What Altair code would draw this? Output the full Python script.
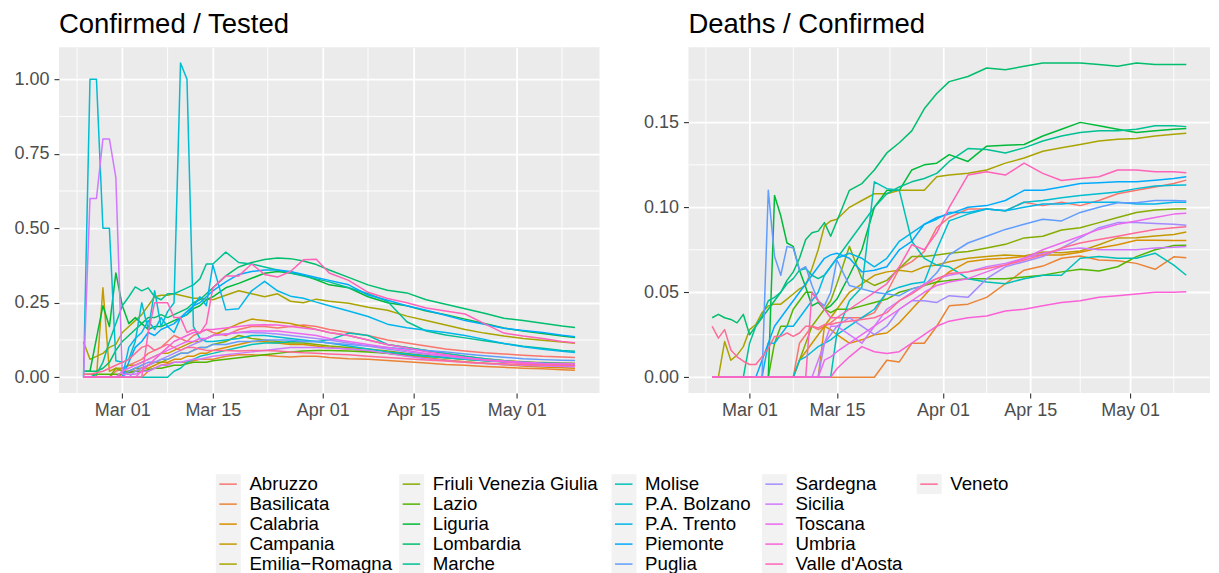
import math
import altair as alt
import pandas as pd

# ---------------- data ----------------
DATES = [
    "2020-02-24", "2020-02-25", "2020-02-26", "2020-02-27", "2020-02-28", "2020-02-29",
    "2020-03-01", "2020-03-02", "2020-03-03", "2020-03-04", "2020-03-05", "2020-03-06",
    "2020-03-07", "2020-03-08", "2020-03-09", "2020-03-10", "2020-03-11", "2020-03-12",
    "2020-03-13", "2020-03-14", "2020-03-15",
    "2020-03-17", "2020-03-19", "2020-03-21", "2020-03-23", "2020-03-25", "2020-03-27",
    "2020-03-29", "2020-03-31", "2020-04-02",
    "2020-04-05", "2020-04-08", "2020-04-11", "2020-04-14", "2020-04-17", "2020-04-20",
    "2020-04-23", "2020-04-26", "2020-04-29", "2020-05-02", "2020-05-05", "2020-05-08",
    "2020-05-10",
]

REGIONS = [
    "Abruzzo", "Basilicata", "Calabria", "Campania", "Emilia\u2212Romagna",
    "Friuli Venezia Giulia", "Lazio", "Liguria", "Lombardia", "Marche",
    "Molise", "P.A. Bolzano", "P.A. Trento", "Piemonte", "Puglia",
    "Sardegna", "Sicilia", "Toscana", "Umbria", "Valle d'Aosta", "Veneto",
]

# Confirmed / Tested
ct_abruzzo = [0, 0, 0, 0, 0, 0.02, 0.03, 0.04, 0.05, 0.06, 0.08, 0.09, 0.10, 0.12, 0.14, 0.13, 0.12, 0.14, 0.15, 0.16, 0.15,
              0.14, 0.16, 0.17, 0.17, 0.165, 0.17, 0.175, 0.17, 0.16,
              0.15, 0.14, 0.125, 0.115, 0.105, 0.095, 0.088, 0.082, 0.078, 0.074, 0.07, 0.068, 0.066]
ct_basilicata = [0, 0, 0, 0, 0, 0, 0, 0, 0, 0, 0.02, 0.03, 0.04, 0.045, 0.05, 0.05, 0.05, 0.055, 0.06, 0.06, 0.06,
                 0.07, 0.075, 0.075, 0.074, 0.07, 0.068, 0.07, 0.07, 0.066,
                 0.062, 0.06, 0.056, 0.052, 0.048, 0.043, 0.04, 0.036, 0.033, 0.03, 0.028, 0.025, 0.023]
ct_calabria = [0, 0, 0, 0, 0, 0, 0.01, 0.02, 0.02, 0.03, 0.03, 0.04, 0.05, 0.05, 0.06, 0.06, 0.07, 0.07, 0.08, 0.08, 0.09,
               0.10, 0.11, 0.12, 0.12, 0.115, 0.11, 0.11, 0.105, 0.10,
               0.095, 0.088, 0.08, 0.072, 0.065, 0.058, 0.052, 0.047, 0.042, 0.038, 0.034, 0.032, 0.03]
ct_campania = [0, 0, 0, 0.30, 0.02, 0.03, 0.03, 0.04, 0.04, 0.05, 0.06, 0.07, 0.08, 0.08, 0.09, 0.10, 0.11, 0.12, 0.12, 0.13, 0.14,
               0.16, 0.18, 0.195, 0.19, 0.185, 0.18, 0.17, 0.16, 0.15,
               0.14, 0.125, 0.11, 0.10, 0.09, 0.08, 0.07, 0.062, 0.056, 0.052, 0.048, 0.045, 0.043]
ct_emilia = [0.118, 0.06, 0.07, 0.08, 0.10, 0.11, 0.15, 0.17, 0.19, 0.21, 0.24, 0.27, 0.275, 0.275, 0.28, 0.275, 0.27, 0.265, 0.265, 0.262, 0.26,
             0.275, 0.29, 0.28, 0.27, 0.28, 0.255, 0.25, 0.262, 0.255,
             0.248, 0.235, 0.225, 0.205, 0.19, 0.175, 0.16, 0.148, 0.138, 0.13, 0.124, 0.118, 0.114]
ct_friuli = [0, 0, 0, 0, 0, 0.03, 0.02, 0.02, 0.03, 0.03, 0.04, 0.05, 0.05, 0.06, 0.07, 0.08, 0.08, 0.09, 0.10, 0.10, 0.11,
             0.12, 0.14, 0.13, 0.125, 0.12, 0.115, 0.115, 0.11, 0.105,
             0.10, 0.095, 0.088, 0.08, 0.073, 0.066, 0.06, 0.056, 0.053, 0.05, 0.049, 0.048, 0.047]
ct_lazio = [0.01, 0.01, 0.01, 0.01, 0.01, 0.01, 0.01, 0.015, 0.02, 0.02, 0.025, 0.03, 0.03, 0.035, 0.04, 0.04, 0.045, 0.05, 0.05, 0.05, 0.055,
            0.06, 0.065, 0.07, 0.075, 0.08, 0.085, 0.088, 0.09, 0.09,
            0.088, 0.085, 0.08, 0.075, 0.07, 0.065, 0.06, 0.056, 0.052, 0.049, 0.046, 0.045, 0.044]
ct_liguria = [0.02, 0.02, 0.13, 0.24, 0.17, 0.35, 0.24, 0.18, 0.20, 0.18, 0.16, 0.17, 0.17, 0.18, 0.19, 0.20, 0.21, 0.23, 0.24, 0.26, 0.27,
              0.30, 0.315, 0.332, 0.349, 0.355, 0.35, 0.343, 0.327, 0.31,
              0.30, 0.27, 0.25, 0.24, 0.222, 0.21, 0.195, 0.18, 0.165, 0.155, 0.147, 0.138, 0.133]
ct_lombardia = [0.02, 0.02, 0.02, 0.03, 0.05, 0.09, 0.12, 0.14, 0.16, 0.18, 0.20, 0.20, 0.21, 0.20, 0.21, 0.22, 0.23, 0.25, 0.26, 0.28, 0.30,
                0.34, 0.37, 0.385, 0.395, 0.40, 0.398, 0.39, 0.378, 0.36,
                0.335, 0.31, 0.292, 0.283, 0.26, 0.245, 0.23, 0.215, 0.198, 0.19, 0.181, 0.172, 0.167]
ct_marche = [0, 0, 0.01, 0.05, 0.12, 0.18, 0.24, 0.27, 0.303, 0.29, 0.30, 0.27, 0.26, 0.28, 0.28, 0.29, 0.30, 0.31, 0.33, 0.38, 0.38,
             0.42, 0.385, 0.38, 0.37, 0.36, 0.35, 0.34, 0.33, 0.32,
             0.30, 0.28, 0.255, 0.186, 0.155, 0.142, 0.132, 0.122, 0.113, 0.104, 0.097, 0.09, 0.087]
ct_molise = [0, 0, 0, 0, 0, 0, 0, 0, 0, 0, 0, 0, 0, 0, 0.02, 0.03, 0.05, 0.06, 0.07, 0.075, 0.08,
             0.09, 0.10, 0.11, 0.115, 0.115, 0.12, 0.12, 0.12, 0.125,
             0.148, 0.14, 0.11, 0.10, 0.09, 0.08, 0.07, 0.062, 0.055, 0.05, 0.046, 0.043, 0.042]
ct_bolzano = [0, 1.0, 1.0, 0.5, 0.5, 0.055, 0.05, 0.06, 0.12, 0.25, 0.16, 0.29, 0.17, 0.22, 0.25, 1.055, 1.0, 0.17, 0.13, 0.12, 0.12,
              0.125, 0.13, 0.14, 0.14, 0.135, 0.13, 0.125, 0.12, 0.115,
              0.105, 0.095, 0.085, 0.078, 0.07, 0.065, 0.06, 0.055, 0.052, 0.05, 0.048, 0.046, 0.045]
ct_trento = [0, 0, 0, 0, 0, 0, 0, 0.10, 0.13, 0.15, 0.19, 0.16, 0.20, 0.17, 0.15, 0.20, 0.21, 0.24, 0.27, 0.24, 0.377,
             0.226, 0.23, 0.29, 0.322, 0.29, 0.272, 0.265, 0.252, 0.24,
             0.222, 0.204, 0.178, 0.166, 0.158, 0.15, 0.14, 0.127, 0.113, 0.102, 0.094, 0.087, 0.083]
ct_piemonte = [0, 0, 0, 0, 0, 0, 0, 0.05, 0.10, 0.12, 0.15, 0.14, 0.16, 0.17, 0.18, 0.20, 0.22, 0.24, 0.25, 0.27, 0.29,
               0.32, 0.345, 0.355, 0.36, 0.36, 0.355, 0.345, 0.335, 0.325,
               0.31, 0.276, 0.258, 0.24, 0.225, 0.208, 0.19, 0.178, 0.164, 0.157, 0.15, 0.141, 0.136]
ct_puglia = [0, 0, 0, 0, 0, 0, 0, 0.02, 0.03, 0.04, 0.05, 0.05, 0.06, 0.06, 0.07, 0.08, 0.08, 0.09, 0.10, 0.10, 0.11,
             0.11, 0.12, 0.12, 0.125, 0.125, 0.125, 0.12, 0.12, 0.115,
             0.11, 0.105, 0.10, 0.095, 0.09, 0.085, 0.078, 0.072, 0.067, 0.062, 0.059, 0.057, 0.056]
ct_sardegna = [0, 0, 0, 0, 0, 0, 0, 0, 0.02, 0.03, 0.04, 0.05, 0.06, 0.07, 0.08, 0.09, 0.10, 0.11, 0.12, 0.13, 0.14,
               0.145, 0.15, 0.15, 0.148, 0.145, 0.14, 0.135, 0.13, 0.125,
               0.115, 0.105, 0.095, 0.085, 0.077, 0.07, 0.063, 0.057, 0.052, 0.048, 0.044, 0.042, 0.04]
ct_sicilia = [0, 0.6, 0.6, 0.8, 0.8, 0.67, 0.01, 0.01, 0.01, 0.02, 0.02, 0.03, 0.04, 0.04, 0.05, 0.05, 0.055, 0.06, 0.06, 0.065, 0.07,
              0.075, 0.08, 0.085, 0.09, 0.095, 0.10, 0.10, 0.10, 0.098,
              0.095, 0.09, 0.08, 0.07, 0.062, 0.056, 0.05, 0.046, 0.043, 0.04, 0.038, 0.036, 0.035]
ct_toscana = [0, 0, 0, 0, 0, 0, 0.02, 0.03, 0.04, 0.05, 0.06, 0.07, 0.08, 0.09, 0.10, 0.11, 0.12, 0.12, 0.13, 0.13, 0.14,
              0.145, 0.15, 0.155, 0.155, 0.155, 0.15, 0.145, 0.14, 0.13,
              0.12, 0.11, 0.10, 0.09, 0.08, 0.072, 0.065, 0.059, 0.054, 0.05, 0.047, 0.046, 0.045]
ct_umbria = [0, 0, 0, 0, 0, 0, 0, 0, 0, 0.02, 0.04, 0.06, 0.08, 0.10, 0.12, 0.13, 0.14, 0.15, 0.15, 0.16, 0.16,
             0.165, 0.17, 0.175, 0.176, 0.175, 0.17, 0.165, 0.16, 0.15,
             0.14, 0.125, 0.11, 0.098, 0.085, 0.075, 0.066, 0.058, 0.052, 0.046, 0.042, 0.04, 0.039]
ct_valle = [0, 0, 0, 0, 0, 0, 0, 0, 0, 0, 0.15, 0.25, 0.25, 0.25, 0.20, 0.20, 0.15, 0.16, 0.148, 0.18, 0.30,
            0.34, 0.34, 0.38, 0.345, 0.336, 0.355, 0.394, 0.396, 0.35,
            0.325, 0.285, 0.264, 0.25, 0.232, 0.222, 0.212, 0.18, 0.148, 0.138, 0.13, 0.12, 0.116]
ct_veneto = [0.01, 0.01, 0.015, 0.02, 0.03, 0.04, 0.05, 0.06, 0.08, 0.10, 0.107, 0.09, 0.10, 0.11, 0.10, 0.09, 0.10, 0.10, 0.095, 0.09, 0.09,
             0.09, 0.088, 0.09, 0.09, 0.088, 0.085, 0.082, 0.08, 0.078,
             0.075, 0.07, 0.066, 0.062, 0.058, 0.054, 0.05, 0.047, 0.045, 0.043, 0.041, 0.04, 0.04]

# Deaths / Confirmed
dc_abruzzo = [0, 0, 0, 0, 0, 0, 0, 0, 0, 0, 0, 0, 0, 0, 0.02, 0.025, 0.03, 0.028, 0.03, 0.032, 0.035,
              0.035, 0.035, 0.038, 0.05, 0.064, 0.068, 0.074, 0.088, 0.094,
              0.099, 0.099, 0.098, 0.103, 0.101, 0.103, 0.101, 0.104, 0.108, 0.11, 0.112, 0.114, 0.116]
dc_basilicata = [0, 0, 0, 0, 0, 0, 0, 0, 0, 0, 0, 0, 0, 0, 0, 0, 0, 0, 0, 0, 0,
                 0, 0, 0, 0.01, 0.009, 0.02, 0.02, 0.03, 0.042,
                 0.043, 0.047, 0.055, 0.063, 0.0654, 0.07, 0.0713, 0.069, 0.0685, 0.067, 0.0635, 0.0709, 0.0703]
dc_calabria = [0, 0, 0, 0, 0, 0, 0, 0, 0, 0, 0, 0, 0, 0, 0, 0, 0, 0, 0.03, 0.028, 0.025,
               0.02, 0.022, 0.025, 0.026, 0.032, 0.04, 0.048, 0.056, 0.062,
               0.068, 0.0694, 0.07, 0.071, 0.072, 0.072, 0.0735, 0.076, 0.078, 0.0806, 0.0806, 0.0805, 0.0805]
dc_campania = [0, 0, 0, 0, 0, 0, 0, 0, 0, 0, 0, 0, 0, 0, 0.01, 0.015, 0.02, 0.025, 0.03, 0.035, 0.04,
               0.05, 0.055, 0.06, 0.062, 0.063, 0.062, 0.065, 0.066, 0.068,
               0.07, 0.071, 0.072, 0.0713, 0.0737, 0.0733, 0.0743, 0.078, 0.082, 0.0821, 0.0831, 0.084, 0.0855]
dc_emilia = [0, 0, 0.021, 0.01, 0.013, 0.018, 0.028, 0.031, 0.038, 0.042, 0.043, 0.043, 0.046, 0.049, 0.052, 0.054, 0.064, 0.075, 0.089, 0.092, 0.093,
             0.10, 0.104, 0.108, 0.108, 0.11, 0.11, 0.11, 0.118, 0.119,
             0.12, 0.122, 0.126, 0.129, 0.133, 0.135, 0.137, 0.139, 0.14, 0.1405, 0.142, 0.143, 0.1436]
dc_friuli = [0, 0, 0, 0, 0, 0, 0, 0, 0, 0, 0, 0, 0, 0, 0.01, 0.02, 0.03, 0.035, 0.04, 0.045, 0.055,
             0.077, 0.058, 0.054, 0.057, 0.064, 0.071, 0.071, 0.072, 0.073,
             0.074, 0.076, 0.0782, 0.082, 0.083, 0.0866, 0.088, 0.091, 0.094, 0.097, 0.0984, 0.099, 0.0992]
dc_lazio = [0, 0, 0, 0, 0, 0, 0, 0, 0, 0, 0.02, 0.03, 0.03, 0.04, 0.045, 0.05, 0.05, 0.045, 0.04, 0.038, 0.04,
            0.04, 0.042, 0.044, 0.046, 0.05, 0.052, 0.054, 0.056, 0.057,
            0.058, 0.058, 0.058, 0.059, 0.06, 0.062, 0.0635, 0.0625, 0.065, 0.071, 0.075, 0.0775, 0.0776]
dc_liguria = [0, 0, 0, 0, 0, 0, 0, 0, 0, 0, 0.107, 0.095, 0.079, 0.077, 0.063, 0.053, 0.042, 0.044, 0.04, 0.042, 0.046,
              0.06, 0.075, 0.10, 0.11, 0.11, 0.122, 0.125, 0.126, 0.131,
              0.127, 0.136, 0.1365, 0.137, 0.142, 0.146, 0.15, 0.148, 0.146, 0.144, 0.145, 0.146, 0.1464]
dc_lombardia = [0.035, 0.037, 0.035, 0.034, 0.032, 0.037, 0.025, 0.03, 0.035, 0.04, 0.045, 0.05, 0.057, 0.062, 0.07, 0.081, 0.085, 0.086, 0.091, 0.083, 0.092,
                0.11, 0.114, 0.122, 0.132, 0.138, 0.145, 0.158, 0.167, 0.174,
                0.177, 0.182, 0.181, 0.183, 0.185, 0.185, 0.185, 0.184, 0.183, 0.185, 0.184, 0.184, 0.184]
dc_marche = [0, 0, 0, 0, 0, 0, 0.02, 0.03, 0.036, 0.045, 0.047, 0.05, 0.055, 0.058, 0.063, 0.064, 0.06, 0.058, 0.06, 0.065, 0.07,
             0.08, 0.09, 0.10, 0.108, 0.112, 0.115, 0.117, 0.12, 0.127,
             0.1346, 0.134, 0.132, 0.135, 0.139, 0.142, 0.144, 0.145, 0.145, 0.146, 0.148, 0.148, 0.1475]
dc_molise = [0, 0, 0, 0, 0, 0, 0, 0, 0, 0, 0, 0, 0, 0, 0, 0, 0, 0, 0, 0, 0.026,
             0.045, 0.053, 0.115, 0.111, 0.11, 0.08, 0.07, 0.066, 0.065,
             0.058, 0.056, 0.055, 0.058, 0.06, 0.06, 0.07, 0.071, 0.07, 0.07, 0.073, 0.066, 0.06]
dc_bolzano = [0, 0, 0, 0, 0, 0, 0, 0, 0, 0, 0, 0, 0, 0, 0.01, 0.012, 0.015, 0.018, 0.02, 0.022, 0.025,
              0.03, 0.035, 0.04, 0.05, 0.053, 0.055, 0.056, 0.075, 0.092,
              0.096, 0.099, 0.098, 0.103, 0.104, 0.1057, 0.107, 0.108, 0.109, 0.111, 0.1126, 0.113, 0.1132]
dc_trento = [0, 0, 0, 0, 0, 0, 0, 0, 0, 0.02, 0.02, 0.025, 0.03, 0.03, 0.035, 0.04, 0.045, 0.05, 0.06, 0.065, 0.07,
             0.073, 0.07, 0.065, 0.07, 0.08, 0.085, 0.09, 0.093, 0.097,
             0.097, 0.099, 0.098, 0.10, 0.102, 0.102, 0.103, 0.103, 0.103, 0.102, 0.102, 0.103, 0.103]
dc_piemonte = [0, 0, 0, 0, 0, 0, 0, 0, 0.01, 0.02, 0.03, 0.035, 0.04, 0.045, 0.05, 0.055, 0.06, 0.065, 0.07, 0.072, 0.073,
               0.07, 0.062, 0.063, 0.065, 0.075, 0.08, 0.09, 0.094, 0.096,
               0.10, 0.101, 0.104, 0.11, 0.11, 0.112, 0.114, 0.1145, 0.115, 0.115, 0.116, 0.117, 0.118]
dc_puglia = [0, 0, 0, 0, 0, 0, 0, 0, 0, 0.11, 0.071, 0.06, 0.077, 0.076, 0.063, 0.065, 0.054, 0.045, 0.042, 0.05, 0.069,
             0.054, 0.052, 0.05, 0.049, 0.048, 0.052, 0.054, 0.0615, 0.072,
             0.079, 0.083, 0.087, 0.09, 0.093, 0.092, 0.097, 0.10, 0.1027, 0.1027, 0.104, 0.104, 0.1037]
dc_sardegna = [0, 0, 0, 0, 0, 0, 0, 0, 0, 0, 0, 0, 0, 0, 0, 0, 0, 0, 0.02, 0.025, 0.03,
               0.035, 0.03, 0.025, 0.03, 0.04, 0.045, 0.045, 0.044, 0.048,
               0.047, 0.058, 0.065, 0.068, 0.071, 0.076, 0.082, 0.088, 0.091, 0.091, 0.0905, 0.09, 0.0894]
dc_sicilia = [0, 0, 0, 0, 0, 0, 0, 0, 0, 0, 0, 0, 0, 0, 0, 0, 0, 0.01, 0.02, 0.03, 0.03,
              0.025, 0.02, 0.03, 0.04, 0.045, 0.05, 0.055, 0.058, 0.06,
              0.062, 0.065, 0.067, 0.07, 0.073, 0.075, 0.076, 0.075, 0.075, 0.075, 0.076, 0.0765, 0.077]
dc_toscana = [0, 0, 0, 0, 0, 0, 0, 0, 0, 0, 0, 0, 0, 0, 0, 0, 0, 0, 0.01, 0.012, 0.015,
              0.02, 0.025, 0.03, 0.035, 0.04, 0.045, 0.05, 0.054, 0.056,
              0.058, 0.062, 0.066, 0.07, 0.075, 0.079, 0.083, 0.087, 0.09, 0.092, 0.094, 0.096, 0.0965]
dc_umbria = [0, 0, 0, 0, 0, 0, 0, 0, 0, 0, 0, 0, 0, 0, 0, 0, 0, 0, 0, 0, 0.005,
             0.012, 0.018, 0.015, 0.014, 0.015, 0.02, 0.025, 0.03, 0.033,
             0.035, 0.036, 0.039, 0.04, 0.042, 0.044, 0.045, 0.047, 0.048, 0.049, 0.05, 0.05, 0.0503]
dc_valle = [0, 0, 0, 0, 0, 0, 0, 0, 0, 0, 0, 0, 0, 0, 0, 0, 0.05, 0.045, 0.04, 0.035, 0.035,
            0.04, 0.045, 0.05, 0.055, 0.065, 0.078, 0.075, 0.085, 0.10,
            0.119, 0.121, 0.119, 0.126, 0.12, 0.1158, 0.117, 0.118, 0.122, 0.122, 0.121, 0.121, 0.1204]
dc_veneto = [0.03, 0.023, 0.028, 0.016, 0.012, 0.0094, 0.0075, 0.0075, 0.012, 0.017, 0.024, 0.024, 0.026, 0.024, 0.026, 0.03, 0.03, 0.029, 0.031, 0.031, 0.032,
             0.033, 0.034, 0.035, 0.038, 0.045, 0.049, 0.054, 0.058, 0.061,
             0.062, 0.064, 0.066, 0.069, 0.072, 0.076, 0.079, 0.081, 0.083, 0.085, 0.087, 0.088, 0.0886]

CT_SERIES = [ct_abruzzo, ct_basilicata, ct_calabria, ct_campania, ct_emilia, ct_friuli, ct_lazio,
             ct_liguria, ct_lombardia, ct_marche, ct_molise, ct_bolzano, ct_trento, ct_piemonte,
             ct_puglia, ct_sardegna, ct_sicilia, ct_toscana, ct_umbria, ct_valle, ct_veneto]
DC_SERIES = [dc_abruzzo, dc_basilicata, dc_calabria, dc_campania, dc_emilia, dc_friuli, dc_lazio,
             dc_liguria, dc_lombardia, dc_marche, dc_molise, dc_bolzano, dc_trento, dc_piemonte,
             dc_puglia, dc_sardegna, dc_sicilia, dc_toscana, dc_umbria, dc_valle, dc_veneto]

X_MAJOR = ["2020-03-01", "2020-03-15", "2020-04-01", "2020-04-15", "2020-05-01"]
X_MINOR = ["2020-02-23", "2020-03-08", "2020-03-23T12:00:00Z", "2020-04-08", "2020-04-23", "2020-05-08"]
CT_Y_MAJOR = [0, 0.25, 0.5, 0.75, 1.0]
CT_Y_MINOR = [0.125, 0.375, 0.625, 0.875]
DC_Y_MAJOR = [0, 0.05, 0.10, 0.15]
DC_Y_MINOR = [0.025, 0.075, 0.125, 0.175]

# ---------------- style / layout ----------------
FONT = "Liberation Sans"
PANEL_BG = "#EBEBEB"
LEFT_W, RIGHT_W, PANEL_H = 541, 522, 346   # total svg width stays within the page (no rescale)
H_SPACING = 89
VIEW_X0, VIEW_Y0 = 58, 46          # page position of the left plot area (legend reference)

LEG_COL_LEFT = [215, 398.5, 611, 761.5, 916.5]   # page x of legend key boxes
LEG_ROW0_CENTER = 483.3
LEG_ROW_STEP = 20
KEY_W, KEY_H = 25, 20


def hcl_to_hex(h, c, l):
    """R's hcl() (polar CIE-LUV, D65) -> sRGB hex."""
    white_y, white_u, white_v = 100.0, 0.1978398, 0.4683363
    hr = math.radians(h)
    U, V = c * math.cos(hr), c * math.sin(hr)
    Y = white_y * (((l + 16) / 116) ** 3 if l > 7.999592 else l / 903.3)
    u = U / (13 * l) + white_u
    v = V / (13 * l) + white_v
    X = 9.0 * Y * u / (4 * v)
    Z = -X / 3 - 5 * Y + 3 * Y / v

    def gt(x):
        return 1.055 * x ** (1 / 2.4) - 0.055 if x > 0.00304 else 12.92 * x

    r = gt((3.240479 * X - 1.537150 * Y - 0.498535 * Z) / white_y)
    g = gt((-0.969256 * X + 1.875992 * Y + 0.041556 * Z) / white_y)
    b = gt((0.055648 * X - 0.204043 * Y + 1.057311 * Z) / white_y)
    return "#" + "".join("%02X" % int(round(255 * min(1, max(0, x)))) for x in (r, g, b))


N = len(REGIONS)
COLORS = [hcl_to_hex(15 + 360 * i / N, 100, 65) for i in range(N)]
COLOR_SCALE = alt.Scale(domain=REGIONS, range=COLORS)


def ms(s):
    t = pd.Timestamp(s)
    if t.tzinfo is not None:
        t = t.tz_convert(None)
    return int(t.value // 1_000_000)


def long_frame(series_list):
    rows = []
    for region, vals in zip(REGIONS, series_list):
        for d, v in zip(DATES, vals):
            rows.append({"region": region, "date": d, "value": v})
    return pd.DataFrame(rows)


def legend_layers():
    rows = []
    for i, region in enumerate(REGIONS):
        col, row = i // 5, i % 5
        bx = LEG_COL_LEFT[col] - VIEW_X0
        cy = LEG_ROW0_CENTER + row * LEG_ROW_STEP - VIEW_Y0
        rows.append({
            "region": region,
            "bx1": bx, "bx2": bx + KEY_W,
            "by1": cy - KEY_H / 2, "by2": cy + KEY_H / 2,
            "lx1": bx + 3.5, "lx2": bx + 21,
            "tx": bx + 33.6, "cy": cy,
        })
    base = alt.Chart(pd.DataFrame(rows))
    boxes = base.mark_rect(color="#F2F2F2").encode(
        x=alt.X("bx1:Q", scale=None), x2="bx2:Q",
        y=alt.Y("by1:Q", scale=None), y2="by2:Q",
    )
    keys = base.mark_rule(strokeWidth=1.5).encode(
        x=alt.X("lx1:Q", scale=None), x2="lx2:Q",
        y=alt.Y("cy:Q", scale=None),
        color=alt.Color("region:N", scale=COLOR_SCALE, legend=None),
    )
    texts = base.mark_text(align="left", baseline="middle", fontSize=18.7, font=FONT,
                           color="black").encode(
        x=alt.X("tx:Q", scale=None), y=alt.Y("cy:Q", scale=None), text="region:N",
    )
    return [boxes, keys, texts]


def panel(series_list, title, y_major, y_minor, width, with_legend=False):
    df = long_frame(series_list)
    vmin, vmax = df["value"].min(), df["value"].max()
    pad = 0.05 * (vmax - vmin)
    y_scale = alt.Scale(domain=[vmin - pad, vmax + pad], nice=False, zero=False)
    t0, t1 = pd.Timestamp(DATES[0]), pd.Timestamp(DATES[-1])
    tpad = (t1 - t0) * 0.05
    x_scale = alt.Scale(type="utc", domain=[ms(t0 - tpad), ms(t1 + tpad)], nice=False)
    x_axis = alt.Axis(values=[ms(d) for d in X_MAJOR], format="%b %d", title=None)
    y_axis = alt.Axis(values=y_major, format=".2f", title=None)

    x_minor = alt.Chart(pd.DataFrame({"date": [ms(d) for d in X_MINOR]})).mark_rule(
        color="white", strokeWidth=0.9
    ).encode(x=alt.X("date:T", scale=x_scale, axis=x_axis))
    y_minor_l = alt.Chart(pd.DataFrame({"value": y_minor})).mark_rule(
        color="white", strokeWidth=0.9
    ).encode(y=alt.Y("value:Q", scale=y_scale, axis=y_axis))

    lines = alt.Chart(df).mark_line(strokeWidth=1.5, strokeJoin="round").encode(
        x=alt.X("date:T", scale=x_scale, axis=x_axis),
        y=alt.Y("value:Q", scale=y_scale, axis=y_axis),
        color=alt.Color("region:N", scale=COLOR_SCALE, legend=None),
    )
    layers = [x_minor, y_minor_l, lines]
    if with_legend:
        layers += legend_layers()
    return alt.layer(*layers).properties(
        width=width, height=PANEL_H,
        view=alt.ViewBackground(fill=PANEL_BG, strokeWidth=0),
        title=alt.Title(title, anchor="start", frame="group", fontSize=27.5, font=FONT,
                        fontWeight="normal", color="black", baseline="alphabetic", offset=-14),
    )


left = panel(CT_SERIES, "Confirmed / Tested", CT_Y_MAJOR, CT_Y_MINOR, LEFT_W, with_legend=True)
right = panel(DC_SERIES, "Deaths / Confirmed", DC_Y_MAJOR, DC_Y_MINOR, RIGHT_W)

chart = alt.hconcat(left, right, spacing=H_SPACING, bounds="flush").properties(
    padding={"left": 5, "top": 3, "right": 0, "bottom": 0}
).configure_view(strokeWidth=0).configure_axis(
    labelFont=FONT, labelFontSize=18, labelColor="#4D4D4D",
    tickColor="#333333", tickSize=5, tickWidth=1.1,
    domain=False, gridColor="white", gridWidth=1.8,
).configure_axisX(labelPadding=4).configure_axisY(labelPadding=5)

chart.save("out.html", embed_options={"renderer": "svg", "actions": False})
